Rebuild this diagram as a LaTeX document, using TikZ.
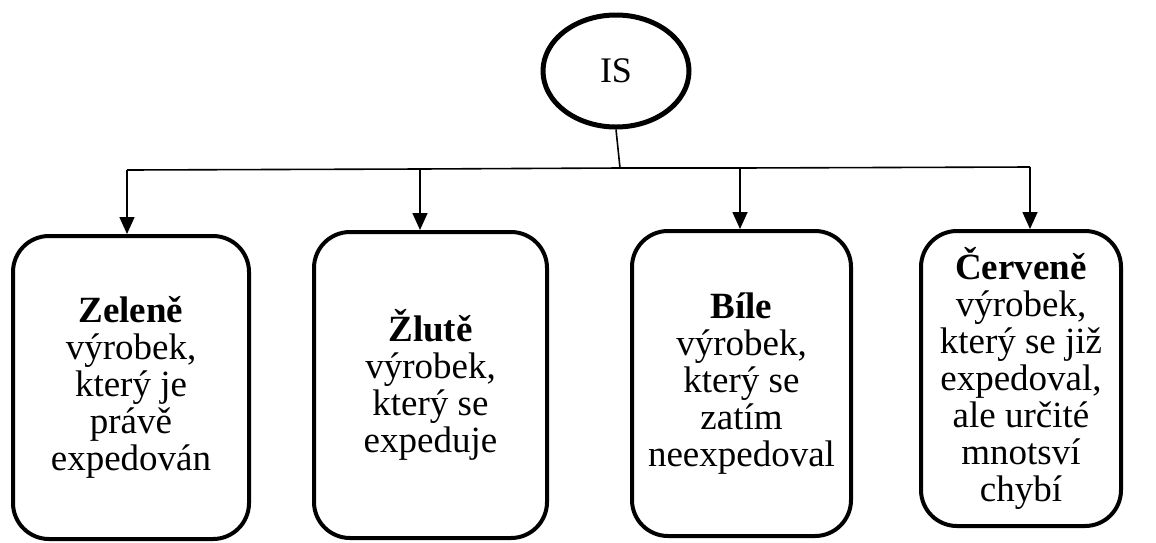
\documentclass[tikz,border=0pt]{standalone}
\usepackage{fontspec}
\setmainfont{Liberation Serif}
\usetikzlibrary{shapes.geometric,arrows.meta}
\begin{document}
\begin{tikzpicture}[x=1pt,y=-1pt,
  card/.style={draw=black,line width=4pt,rounded corners=36pt,align=center,
    font=\fontsize{37}{37}\selectfont,inner sep=0pt},
  root/.style={draw=black,line width=5pt,ellipse,inner sep=0pt,
    minimum width=146pt,minimum height=112pt,font=\fontsize{36}{37}\selectfont},
  link/.style={line width=1.6pt},
  arr/.style={link,-{Triangle[length=17pt,width=15pt]}}]
\useasboundingbox (0,0) rectangle (1156,542);
\node[root] (is) at (616,71) {IS};
\node[card,minimum width=236pt,minimum height=303pt] (b1) at (131,387.5)
  {\textbf{Zeleně}\\výrobek,\\který je\\právě\\expedován};
\node[card,minimum width=233pt,minimum height=306pt] (b2) at (430.5,385)
  {\textbf{Žlutě}\\výrobek,\\který se\\expeduje};
\node[card,minimum width=219pt,minimum height=305pt] (b3) at (741.5,383.5)
  {\textbf{Bíle}\\výrobek,\\který se\\zatím\\neexpedoval};
\node[card,minimum width=200pt,minimum height=295pt] (b4) at (1021,378.5)
  {\textbf{Červeně}\\výrobek,\\který se již\\expedoval,\\ale určité\\mnotsví\\chybí};
\coordinate (j) at (620,168);
\coordinate (h1) at (127,170);
\coordinate (h2) at (420,169);
\coordinate (h3) at (740,168);
\coordinate (h4) at (1030,167);
\draw[link] (is.south) -- (j);
\draw[link] (h1) -- (h2) -- (j) -- (h3) -- (h4);
\draw[arr] (h1) -- (h1 |- b1.north);
\draw[arr] (h2) -- (h2 |- b2.north);
\draw[arr] (h3) -- (h3 |- b3.north);
\draw[arr] (h4) -- (h4 |- b4.north);
\end{tikzpicture}
\end{document}
